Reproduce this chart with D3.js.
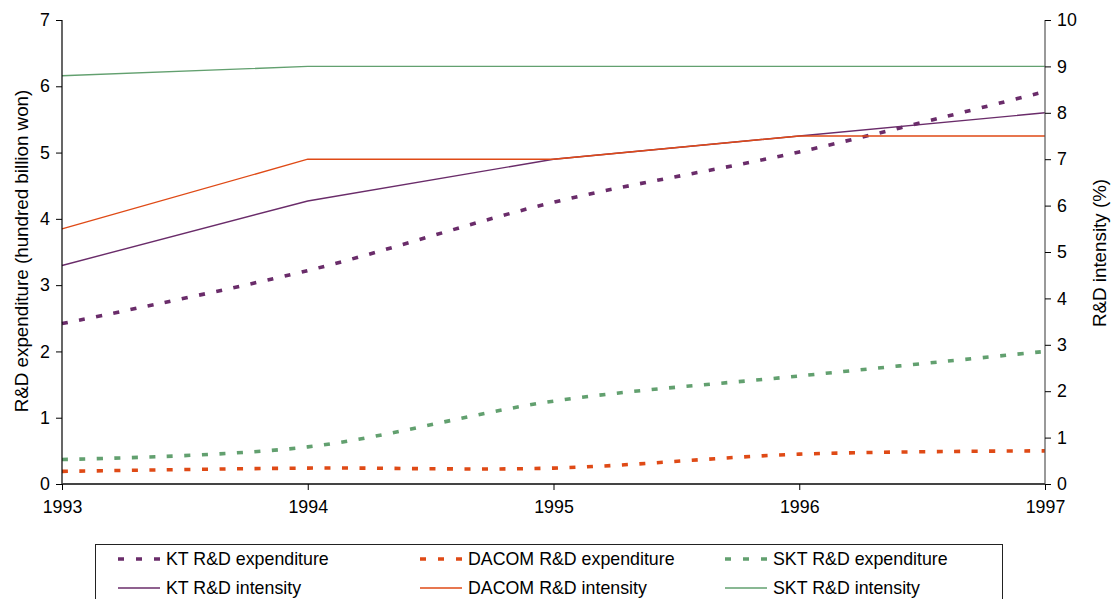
<!DOCTYPE html>
<html>
<head>
<meta charset="utf-8">
<script src="https://cdn.jsdelivr.net/npm/d3@7"></script>
<style>
  html, body { margin: 0; padding: 0; background: #fff; }
  svg { display: block; }
  text { font-family: "Liberation Sans", Arial, sans-serif; fill: #000; }
</style>
</head>
<body>
<svg id="chart" width="1113" height="599"></svg>
<script>
// ---- data ----
const years = [1993, 1994, 1995, 1996, 1997];
const ktExpenditure    = [2.42, 3.22, 4.25, 5.01, 5.92];
const dacomExpenditure = [0.19, 0.24, 0.24, 0.45, 0.50];
const sktExpenditure   = [0.37, 0.56, 1.25, 1.63, 2.00];
const ktIntensity      = [4.71, 6.10, 7.00, 7.50, 8.00];
const dacomIntensity   = [5.50, 7.00, 7.00, 7.50, 7.50];
const sktIntensity     = [8.80, 9.00, 9.00, 9.00, 9.00];
const leftTicks  = [0, 1, 2, 3, 4, 5, 6, 7];
const rightTicks = [0, 1, 2, 3, 4, 5, 6, 7, 8, 9, 10];
const leftTitle  = "R&D expenditure (hundred billion won)";
const rightTitle = "R&D intensity (%)";

const series = [
  { name: "KT R&D expenditure",    values: ktExpenditure,    color: "#6a2c6a", axis: "left",  dashed: true },
  { name: "DACOM R&D expenditure", values: dacomExpenditure, color: "#df4a16", axis: "left",  dashed: true },
  { name: "SKT R&D expenditure",   values: sktExpenditure,   color: "#62a06f", axis: "left",  dashed: true },
  { name: "KT R&D intensity",      values: ktIntensity,      color: "#6a2c6a", axis: "right", dashed: false },
  { name: "DACOM R&D intensity",   values: dacomIntensity,   color: "#df4a16", axis: "right", dashed: false },
  { name: "SKT R&D intensity",     values: sktIntensity,     color: "#62a06f", axis: "right", dashed: false }
];

// ---- layout ----
const svg = d3.select("#chart");
const L = 62, R = 1045, T = 20, B = 484;
const FS = 17.8, FT = 18.8, FL = 17.8;

const x = d3.scaleLinear().domain([1993, 1997]).range([L, R]);
const yL = d3.scaleLinear().domain([0, 7]).range([B, T]);
const yR = d3.scaleLinear().domain([0, 10]).range([B, T]);

// ---- lines ----
const g = svg.append("g");
series.forEach(s => {
  const yS = s.axis === "left" ? yL : yR;
  const line = d3.line()
    .x((d, i) => x(years[i]))
    .y(d => yS(d))
    .curve(s.dashed ? d3.curveCardinal.tension(0) : d3.curveLinear);
  g.append("path")
    .attr("d", line(s.values))
    .attr("fill", "none")
    .attr("stroke", s.color)
    .attr("stroke-width", s.dashed ? 3.6 : 1.4)
    .attr("stroke-dasharray", s.dashed ? "6,11.5" : null);
});

// ---- axes ----
const axL = svg.append("g").attr("transform", `translate(${L},0)`)
  .call(d3.axisLeft(yL).tickValues(leftTicks).tickSize(6).tickPadding(6).tickFormat(d3.format("d")));
const axR = svg.append("g").attr("transform", `translate(${R},0)`)
  .call(d3.axisRight(yR).tickValues(rightTicks).tickSize(6).tickPadding(6).tickFormat(d3.format("d")));
const axB = svg.append("g").attr("transform", `translate(0,${B})`)
  .call(d3.axisBottom(x).tickValues(years).tickSize(6).tickPadding(7).tickFormat(d3.format("d")));

[axL, axR, axB].forEach(a => {
  a.selectAll("text").style("font-family", '"Liberation Sans", Arial, sans-serif').style("font-size", FS + "px").attr("fill", "#000");
  a.select(".domain").attr("stroke", "#000").attr("stroke-width", 1.2);
  a.selectAll(".tick line").attr("stroke", "#000").attr("stroke-width", 1);
});
axL.select(".domain").attr("d", `M0,${T}V${B}`);
axR.select(".domain").attr("d", `M0,${T}V${B}`).attr("stroke", "#555");
axB.select(".domain").attr("d", `M${L},0H${R}`).attr("stroke", "#444").attr("stroke-width", 2.2);
axB.selectAll(".tick text").attr("dy", "0.9em");

// axis titles
svg.append("text")
  .attr("transform", `translate(28,251) rotate(-90)`)
  .attr("text-anchor", "middle")
  .style("font-size", FT + "px")
  .text(leftTitle);
svg.append("text")
  .attr("transform", `translate(1106,253) rotate(-90)`)
  .attr("text-anchor", "middle")
  .style("font-size", FT + "px")
  .text(rightTitle);

// ---- legend ----
svg.append("rect")
  .attr("x", 95.5).attr("y", 544.5)
  .attr("width", 907).attr("height", 80)
  .attr("fill", "none").attr("stroke", "#222").attr("stroke-width", 1);

const colX = [118, 420, 725];
const rowY = [559, 588];
series.forEach((s, i) => {
  const col = i % 3, row = Math.floor(i / 3);
  const sx = colX[col], sy = rowY[row];
  svg.append("line")
    .attr("x1", sx).attr("x2", sx + 42)
    .attr("y1", sy).attr("y2", sy)
    .attr("stroke", s.color)
    .attr("stroke-width", s.dashed ? 3.6 : 1.4)
    .attr("stroke-dasharray", s.dashed ? "6,12" : null);
  svg.append("text")
    .attr("x", sx + 48).attr("y", sy)
    .attr("dy", "0.35em")
    .style("font-size", FL + "px")
    .text(s.name);
});
</script>
</body>
</html>
